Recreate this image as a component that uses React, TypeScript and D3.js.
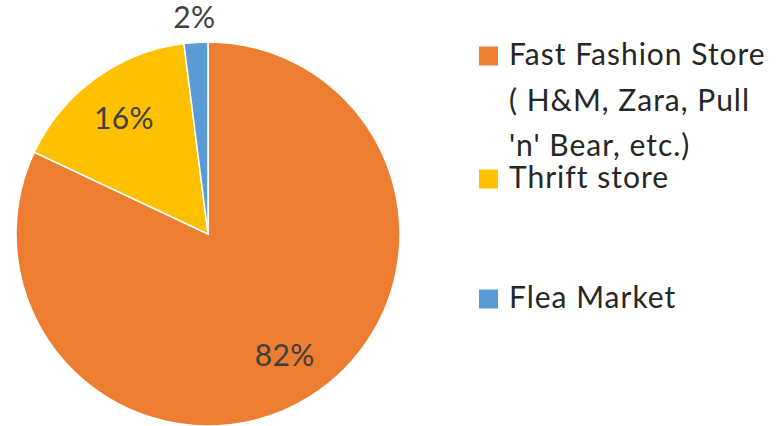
import React from "react";
import * as d3 from "d3";

const categories = ["Fast Fashion Store", "Thrift store", "Flea Market"];
const values = [82, 16, 2];
const colors = ["#ED7D31", "#FFC000", "#5B9BD5"];
const legendLines = [["Fast Fashion Store", "( H&M, Zara, Pull", "'n' Bear, etc.)"], ["Thrift store"], ["Flea Market"]];

const W = 776;
const H = 426;
const cx = 208;
const cy = 234;
const R = 192;
const FONT = "Lato, Carlito, 'Open Sans', sans-serif";

export default function App() {
  const pie = d3.pie<number>().sort(null).value((d) => d)(values);
  const arc = d3.arc<d3.PieArcDatum<number>>().innerRadius(0).outerRadius(R);
  const total = d3.sum(values);
  const firstBaselines = [65, 110.5, 156];
  const entryBaseline = [65, 188, 308];
  return (
    <svg width={W} height={H} style={{ position: "absolute", left: 0, top: 0, background: "#fff" }}>
      <g transform={`translate(${cx},${cy})`}>
        {pie.map((p, i) => (
          <path key={i} d={arc(p) || ""} fill={colors[i]} stroke="#fff" strokeWidth={1.5} />
        ))}
        {pie.map((p, i) => {
          const outside = p.value / total < 0.05;
          const lr = outside ? R * 1.13 : R * 0.745;
          const c = d3.arc<d3.PieArcDatum<number>>().innerRadius(lr).outerRadius(lr).centroid(p);
          return (
            <text key={i} x={c[0]} y={c[1]} dy="0.36em" textAnchor="middle" fontFamily={FONT} fontSize={30} letterSpacing={0.3} fill="#404040">
              {`${Math.round((p.value / total) * 100)}%`}
            </text>
          );
        })}
      </g>
      {categories.map((c, i) => (
        <g key={c}>
          <rect x={479} y={entryBaseline[i] - 18.5} width={19} height={19} fill={colors[i]} />
          <text fontFamily={FONT} fontSize={30} letterSpacing={1} fill="#262626">
            {legendLines[i].map((l, j) => (
              <tspan key={j} x={509} y={i === 0 ? firstBaselines[j] : entryBaseline[i]}>{l}</tspan>
            ))}
          </text>
        </g>
      ))}
    </svg>
  );
}
